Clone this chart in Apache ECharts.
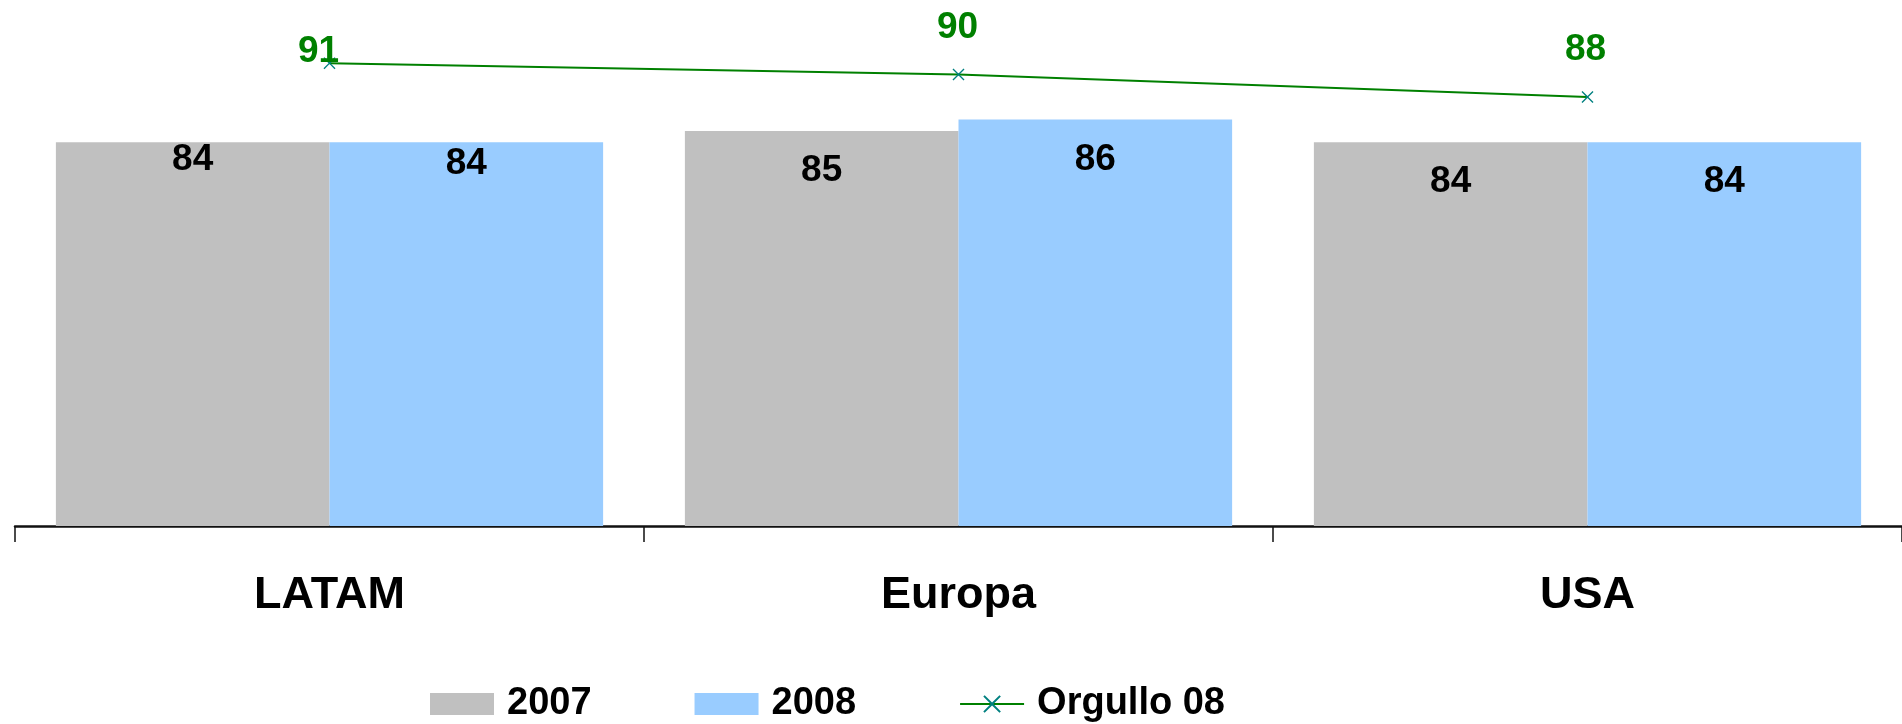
<!DOCTYPE html>
<html>
<head>
<meta charset="utf-8">
<script src="https://cdn.jsdelivr.net/npm/echarts@6/dist/echarts.min.js"></script>
<style>
  html, body { margin: 0; padding: 0; background: #ffffff; overflow: hidden; }
  #chart { width: 1902px; height: 724px; }
</style>
</head>
<body>
<div id="chart"></div>
<script>
const categories = ['LATAM', 'Europa', 'USA'];
const values2007 = [84, 85, 84];
const values2008 = [84, 86, 84];
const valuesOrgullo = [91, 90, 88];
const seriesNames = ['2007', '2008', 'Orgullo 08'];

// label placement tweaks (presentation only)
const barLabelY2007 = [18, 40, 40];
const barLabelY2008 = [22, 40, 40];
const lineLabelOffsets = [[-11, -11], [-1, -47], [-2, -47]];

const FONT = '"Liberation Sans", Arial, sans-serif';
const xPath = 'path://M0,1.6 L1.6,0 L10,8.4 L18.4,0 L20,1.6 L11.6,10 L20,18.4 L18.4,20 L10,11.6 L1.6,20 L0,18.4 L8.4,10 Z';

function barData(vals, ys) {
  return vals.map((v, i) => ({
    value: v,
    label: { position: ['50%', ys[i]] }
  }));
}

const chart = echarts.init(document.getElementById('chart'), null, { renderer: 'canvas' });
chart.setOption({
  backgroundColor: '#ffffff',
  animation: false,
  grid: { left: 15, right: -3, top: 18, bottom: 198, containLabel: false },
  legend: {
    left: 430,
    top: 685,
    padding: 0,
    itemWidth: 64,
    itemHeight: 22,
    itemGap: 103,
    textStyle: { fontFamily: FONT, fontSize: 38, fontWeight: 'bold', color: '#000', padding: [0, 0, 0, 8] },
    data: [
      { name: seriesNames[0], icon: 'rect' },
      { name: seriesNames[1], icon: 'rect' },
      { name: seriesNames[2] }
    ]
  },
  xAxis: {
    type: 'category',
    data: categories,
    boundaryGap: true,
    axisLine: { show: true, lineStyle: { color: '#111', width: 2.5 } },
    axisTick: { show: true, alignWithLabel: false, length: 16, lineStyle: { color: '#111', width: 1.5 } },
    axisLabel: { margin: 47, fontFamily: FONT, fontSize: 45, fontWeight: 'bold', color: '#000' },
    splitLine: { show: false }
  },
  yAxis: {
    type: 'value',
    min: 50,
    max: 95,
    show: false,
    splitLine: { show: false }
  },
  series: [
    {
      name: seriesNames[0],
      type: 'bar',
      data: barData(values2007, barLabelY2007),
      barGap: '0%',
      barCategoryGap: '13%',
      itemStyle: { color: '#C0C0C0' },
      label: {
        show: true,
        align: 'center',
        verticalAlign: 'middle',
        fontFamily: FONT, fontSize: 37, fontWeight: 'bold', color: '#000'
      }
    },
    {
      name: seriesNames[1],
      type: 'bar',
      data: barData(values2008, barLabelY2008),
      barGap: '0%',
      barCategoryGap: '13%',
      itemStyle: { color: '#99CCFF' },
      label: {
        show: true,
        align: 'center',
        verticalAlign: 'middle',
        fontFamily: FONT, fontSize: 37, fontWeight: 'bold', color: '#000'
      }
    },
    {
      name: seriesNames[2],
      type: 'line',
      data: valuesOrgullo.map((v, i) => ({ value: v, label: { offset: lineLabelOffsets[i] } })),
      symbol: xPath,
      symbolSize: 12,
      showAllSymbol: true,
      itemStyle: { color: '#008080' },
      lineStyle: { color: '#008000', width: 2 },
      label: {
        show: true,
        position: 'inside',
        align: 'center',
        verticalAlign: 'middle',
        fontFamily: FONT, fontSize: 37, fontWeight: 'bold', color: '#008000'
      },
      z: 5
    }
  ]
});
</script>
</body>
</html>
